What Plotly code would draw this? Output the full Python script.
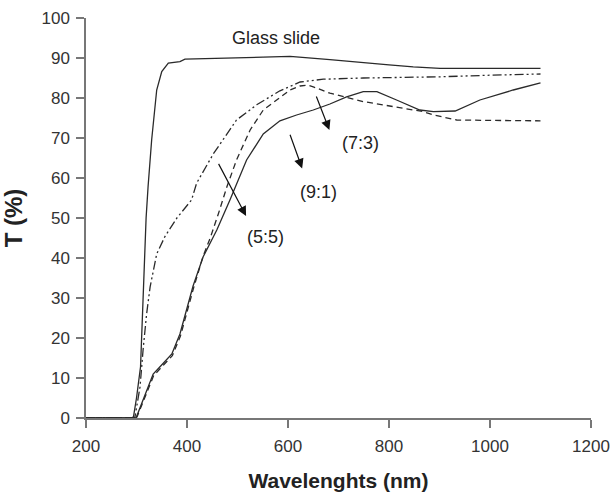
import plotly.graph_objects as go

# ---- data ----
glass_wl = [200, 290, 294, 300, 308, 315, 319, 323, 330, 340, 350, 363, 386, 396, 451, 530, 604, 683, 749, 800, 848, 901, 1000, 1100]
glass_T = [0, 0, 0.3, 5, 12.8, 37.8, 50, 58, 69.5, 82, 86.6, 88.7, 89.1, 89.7, 89.9, 90.3, 90.4, 89.6, 88.8, 88.3, 87.8, 87.4, 87.4, 87.4]

dashdot_wl = [200, 295, 297, 307, 313, 320, 327, 340, 356, 380, 409, 419, 452, 498, 538, 584, 624, 670, 749, 901, 1000, 1100]
dashdot_T = [0, 0, 0.3, 7.8, 17, 26, 32.8, 41, 45.3, 50, 54.5, 58.7, 66, 74.5, 78.3, 81.8, 84, 84.7, 85, 85.3, 85.7, 86]

solid_wl = [200, 298, 300, 320, 333, 353, 370, 386, 399, 412, 432, 459, 485, 518, 551, 584, 617, 650, 683, 716, 749, 776, 815, 861, 888, 931, 980, 1046, 1100]
solid_T = [0, 0, 0.3, 7, 11, 13.7, 16, 21, 27, 33, 40.3, 47, 54.5, 64.5, 71, 74.3, 75.75, 77, 78.5, 80.3, 81.6, 81.6, 79.5, 77, 76.6, 76.75, 79.5, 82, 83.8]

dashed_wl = [200, 299, 301, 321, 334, 354, 371, 387, 400, 413, 432, 446, 462, 479, 498, 525, 551, 578, 604, 624, 640, 650, 683, 749, 815, 868, 888, 934, 1000, 1100]
dashed_T = [0, 0, 0.3, 6.6, 10.6, 13.3, 15.6, 20.5, 26.5, 32.5, 40.5, 45, 51, 57.8, 64.5, 72, 77, 79.5, 82, 83, 83.2, 82.8, 81.2, 79.1, 77.8, 76.6, 75.75, 74.5, 74.4, 74.3]

x_ticks = [200, 400, 600, 800, 1000, 1200]
y_ticks = [0, 10, 20, 30, 40, 50, 60, 70, 80, 90, 100]

labels = ["Glass slide", "(7:3)", "(9:1)", "(5:5)"]
label_x = [576, 744, 660, 556]
label_y = [95, 68.7, 56.5, 45.3]

# arrows: head (x, y), tail (ax, ay)
arrow_head_x = [682, 628, 517]
arrow_head_y = [72, 62.4, 50.5]
arrow_tail_x = [655, 603, 461]
arrow_tail_y = [80.75, 71.2, 63.9]

FONT = "Liberation Sans, Arial, sans-serif"
LINE = "#2a2a2a"

fig = go.Figure()
fig.add_trace(go.Scatter(x=glass_wl, y=glass_T, mode="lines", name="Glass slide",
                         line=dict(color=LINE, width=1.3)))
fig.add_trace(go.Scatter(x=dashdot_wl, y=dashdot_T, mode="lines", name="dash-dot-dot film",
                         line=dict(color=LINE, width=1.3, dash="9px,3px,2px,3px,2px,3px")))
fig.add_trace(go.Scatter(x=dashed_wl, y=dashed_T, mode="lines", name="dashed film",
                         line=dict(color=LINE, width=1.3, dash="6px,4px")))
fig.add_trace(go.Scatter(x=solid_wl, y=solid_T, mode="lines", name="solid film",
                         line=dict(color=LINE, width=1.3)))

for t, lx, ly in zip(labels, label_x, label_y):
    fig.add_annotation(x=lx, y=ly, text=t, showarrow=False,
                       font=dict(family=FONT, size=18, color="#222222"))

for hx, hy, tx, ty in zip(arrow_head_x, arrow_head_y, arrow_tail_x, arrow_tail_y):
    fig.add_annotation(x=hx, y=hy, ax=tx, ay=ty, axref="x", ayref="y", xref="x", yref="y",
                       text="", showarrow=True, arrowhead=2, arrowsize=1.6,
                       arrowwidth=1.2, arrowcolor="#111111", standoff=0, startstandoff=0)

fig.update_layout(
    width=613, height=502,
    margin=dict(l=86, r=22, t=18, b=84),
    paper_bgcolor="white", plot_bgcolor="white",
    showlegend=False,
    font=dict(family=FONT, size=17, color="#333333"),
)
fig.update_xaxes(
    range=[200, 1200], tickvals=x_ticks, showgrid=False, zeroline=False,
    showline=True, linecolor="#777777", linewidth=1.5,
    ticks="outside", ticklen=8, tickwidth=1.5, tickcolor="#777777",
    ticklabelstandoff=4, automargin=False,
    tickfont=dict(family=FONT, size=17, color="#333333"),
    title=dict(text="<b>Wavelenghts (nm)</b>", standoff=18,
               font=dict(family=FONT, size=21, color="#222222")),
)
fig.update_yaxes(
    range=[0, 100], tickvals=y_ticks, showgrid=False, zeroline=False,
    showline=True, linecolor="#777777", linewidth=1.5,
    ticks="outside", ticklen=8, tickwidth=1.5, tickcolor="#777777",
    ticklabelstandoff=3, automargin=False,
    tickfont=dict(family=FONT, size=17, color="#333333"),
    title=dict(text="<b>T (%)</b>", standoff=16,
               font=dict(family=FONT, size=24, color="#222222")),
)

fig.write_html("out.html")
